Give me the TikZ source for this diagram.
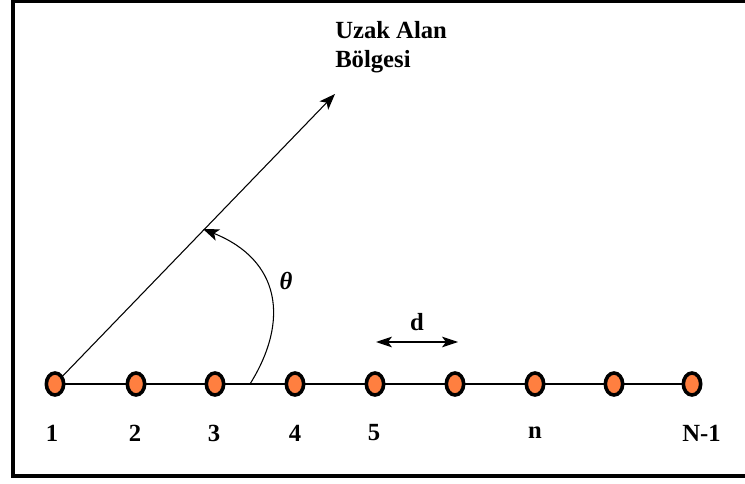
\documentclass[tikz,border=0pt]{standalone}
\usepackage{fontspec}
\setmainfont{Liberation Serif}
\usetikzlibrary{arrows.meta,shapes.geometric}
\definecolor{elem}{HTML}{FF7F40}
\tikzset{
  elemnode/.style={ellipse,draw=black,fill=elem,line width=2.7pt,minimum width=13pt,minimum height=16.5pt,inner sep=0pt},
  lbl/.style={font=\fontsize{18.5}{22}\selectfont\bfseries,inner sep=0pt},
  thin/.style={line width=0.8pt},
  tip/.style={-{Stealth[length=12pt,width=9pt,inset=3pt]}},
}
\begin{document}
\begin{tikzpicture}[x=0.75pt,y=-0.75pt]
\useasboundingbox (0,0) rectangle (745,484);
\fill[white] (0,0) rectangle (745,484);
\begin{scope}
\clip (0,0) rectangle (745,484);
\draw[line width=3.5pt] (13,1) rectangle (770,476);
\end{scope}
% elements
\foreach \i/\x in {1/55,2/136,3/215,4/295,5/375,6/455,7/535,8/614,9/692}{
  \node[elemnode] (e\i) at (\x,384) {};
}
\draw[thin] (e1) -- (e2) -- (e3) -- (e4) -- (e5) -- (e6) -- (e7) -- (e8) -- (e9);
% labels
\node[lbl] (l1) at (52,433) {1};
\node[lbl] (l2) at (135,433) {2};
\node[lbl] (l3) at (214,433) {3};
\node[lbl] (l4) at (295,433) {4};
\node[lbl] (l5) at (374,433) {5};
\node[lbl] (ln) at (535,433) {n};
\node[lbl,anchor=west] (lN) at (682,433) {N-1};
% far field direction
\coordinate (far) at (335,94);
\draw[thin,tip] (e1) -- (far);
\node[lbl,anchor=north west,align=left] (uzak) at (335,21) {Uzak Alan\\[0pt]Bölgesi};
% angle arc
\coordinate (a0) at (250,384);
\coordinate (a1) at (203,229);
\draw[thin,tip] (a0) .. controls (290,320) and (280,260) .. (a1);
\node[lbl] (th) at (286,281) {\textit{θ}};
% spacing d
\coordinate (d0) at (376,342);
\coordinate (d1) at (458,342);
\draw[thin,{Stealth[length=12pt,width=8pt,inset=3pt]}-{Stealth[length=12pt,width=8pt,inset=3pt]}] (d0) -- (d1);
\node[lbl] (dl) at (417,322) {d};
\end{tikzpicture}
\end{document}
